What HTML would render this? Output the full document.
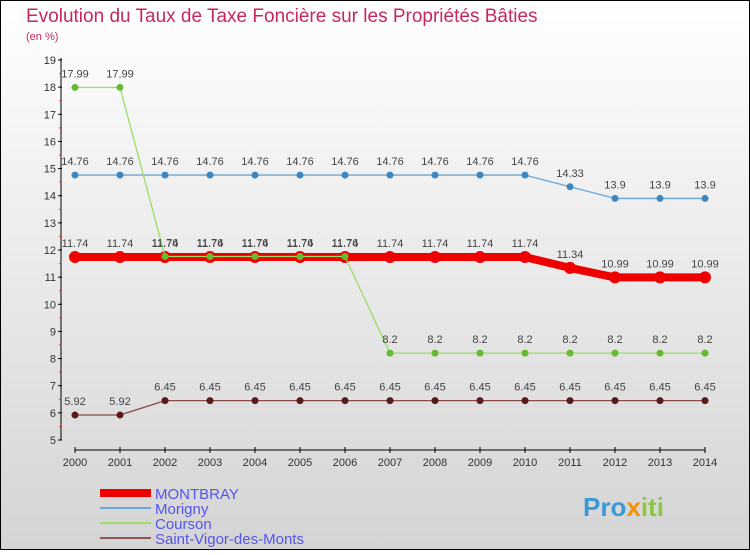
<!DOCTYPE html>
<html><head><meta charset="utf-8"><style>
html,body{margin:0;padding:0}
body{width:750px;height:550px;overflow:hidden;font-family:"Liberation Sans",sans-serif}
</style></head><body>
<svg id="chart" width="750" height="550" xmlns="http://www.w3.org/2000/svg">
<defs><linearGradient id="bg" x1="0" y1="0" x2="0" y2="1"><stop offset="0" stop-color="#ffffff"/><stop offset="1" stop-color="#d4d4d4"/></linearGradient></defs>
<rect x="0.5" y="0.5" width="749" height="549" fill="url(#bg)" stroke="#000"/>
<text x="26" y="22" font-size="19" fill="#c8275e">Evolution du Taux de Taxe Foncière sur les Propriétés Bâties</text>
<text x="26" y="40" font-size="11" fill="#c8275e">(en %)</text>
<g id="axes"></g><g id="series"></g><g id="legend"></g>
<text x="583" y="516" font-size="26" font-weight="bold" fill="#3a9ad9">Pro<tspan fill="#f29400">x</tspan><tspan fill="#8dc63f">iti</tspan></text>
</svg>
<script>
const years=[2000,2001,2002,2003,2004,2005,2006,2007,2008,2009,2010,2011,2012,2013,2014];
const yTicks=[5,6,7,8,9,10,11,12,13,14,15,16,17,18,19];
const montbray=[11.74,11.74,11.74,11.74,11.74,11.74,11.74,11.74,11.74,11.74,11.74,11.34,10.99,10.99,10.99];
const morigny=[14.76,14.76,14.76,14.76,14.76,14.76,14.76,14.76,14.76,14.76,14.76,14.33,13.9,13.9,13.9];
const courson=[17.99,17.99,11.76,11.76,11.76,11.76,11.76,8.2,8.2,8.2,8.2,8.2,8.2,8.2,8.2];
const saintVigor=[5.92,5.92,6.45,6.45,6.45,6.45,6.45,6.45,6.45,6.45,6.45,6.45,6.45,6.45,6.45];
const NS="http://www.w3.org/2000/svg";
const xs=i=>75+i*45;
const ys=v=>440-(v-5)*(380/14);
function mk(tag,attrs,parent,text){const e=document.createElementNS(NS,tag);for(const k in attrs)e.setAttribute(k,attrs[k]);if(text!==undefined)e.textContent=text;parent.appendChild(e);return e;}
const ax=document.getElementById('axes');
let l=mk('line',{x1:61,y1:58,x2:61,y2:440,stroke:'#000'},ax);


l=mk('line',{x1:75,y1:450,x2:705,y2:450,stroke:'#000'},ax);


yTicks.forEach(v=>{
  mk('line',{x1:58,y1:ys(v),x2:62,y2:ys(v),stroke:'#000'},ax);
  if(v<19)mk('line',{x1:59,y1:ys(v+0.5),x2:61,y2:ys(v+0.5),stroke:'#f33'},ax);
  const t=mk('text',{x:56,y:ys(v)+4,'font-size':11,'text-anchor':'end',fill:'#333'},ax,String(v));
  
  
});
years.forEach((y,i)=>{
  mk('line',{x1:xs(i),y1:447,x2:xs(i),y2:453,stroke:'#000'},ax);
  const t=mk('text',{x:xs(i),y:466,'font-size':11,'text-anchor':'middle',fill:'#333'},ax,String(y));
  
  
});
const sg=document.getElementById('series');
function draw(data,color,dot,width,r,name){
  const g=mk('g',{},sg);
  
  
  const p=mk('polyline',{points:data.map((v,i)=>xs(i)+','+ys(v)).join(' '),fill:'none',stroke:color,'stroke-width':width,'stroke-linejoin':'round'},g);
  
  
  data.forEach((v,i)=>{
    const c=mk('circle',{cx:xs(i),cy:ys(v),r:r,fill:dot},g);
    
    
    const t=mk('text',{x:xs(i),y:ys(v)-10,'font-size':11,'text-anchor':'middle',fill:'#444'},g,String(v));
    
    
  });
}
draw(morigny,'#6aa6d6','#3e86c0',1.3,3.5,'morigny');
draw(saintVigor,'#8a4a4a','#5a1a1a',1.3,3.5,'saint-vigor');
draw(montbray,'#ee0000','#ee0000',8,6,'montbray');
draw(courson,'#99dd66','#66bb33',1.3,3.5,'courson');
const lg=document.getElementById('legend');
const items=[['MONTBRAY','#ee0000',8],['Morigny','#6aa6d6',2],['Courson','#99dd66',2],['Saint-Vigor-des-Monts','#8a5555',2]];
items.forEach((it,i)=>{
  const y=493+i*15;
  const g=mk('g',{},lg);
  
  
  mk('line',{x1:100,y1:y,x2:151,y2:y,stroke:it[1],'stroke-width':it[2]},g);
  mk('text',{x:155,y:y+6,'font-size':15,fill:'#5555ee'},g,it[0]);
});
</script>
</body></html>
